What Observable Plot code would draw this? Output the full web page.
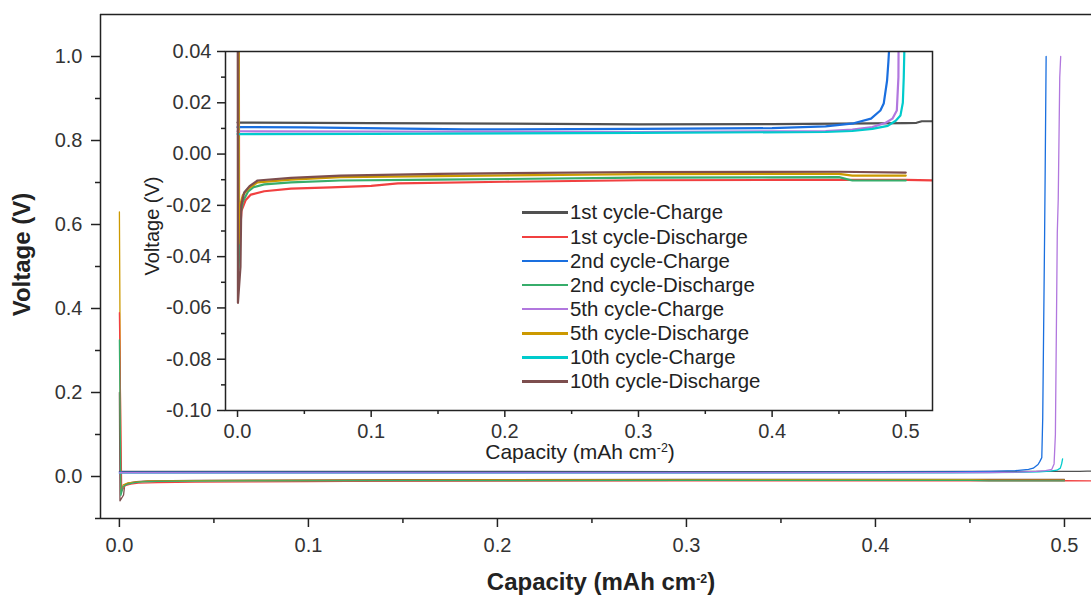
<!DOCTYPE html>
<html><head><meta charset="utf-8">
<script src="https://cdn.jsdelivr.net/npm/d3@7"></script>
<script src="https://cdn.jsdelivr.net/npm/@observablehq/plot@0.6"></script>
<style>
body{margin:0;background:#fff;}
#wrap{position:relative;width:1091px;height:596px;overflow:hidden;font-family:"Liberation Sans",Arial,sans-serif;}
#main{position:absolute;left:0;top:0;}
#inset{position:absolute;left:130px;top:38px;}
#legend{position:absolute;left:522px;top:200.6px;font-size:20.4px;color:#222;line-height:1;}
.row{display:flex;align-items:center;height:24.15px;white-space:nowrap;}
.sw{width:46px;height:2.5px;margin-right:2px;}
</style></head><body>
<div id="wrap"><div id="main"></div><div id="inset"></div><div id="legend"></div></div>
<script>
// ---------- data ----------
const seriesNames = ["1st cycle-Charge","1st cycle-Discharge","2nd cycle-Charge","2nd cycle-Discharge",
                     "5th cycle-Charge","5th cycle-Discharge","10th cycle-Charge","10th cycle-Discharge"];
const seriesColors = ["#515151","#F14040","#1A6FDF","#37AD6B","#B177DE","#CC9900","#00CBCC","#7D4E4E"];

const c1Cap = [0, 0.1, 0.2, 0.3, 0.4, 0.45, 0.5, 0.508, 0.512, 0.53];
const c1V   = [0.0123, 0.0121, 0.0119, 0.0116, 0.0117, 0.0119, 0.0121, 0.0122, 0.0128, 0.0128];
const d1Cap = [0, 0.0012, 0.003, 0.006, 0.01, 0.02, 0.04, 0.07, 0.1, 0.12, 0.2, 0.3, 0.4, 0.5, 0.53];
const d1V   = [0.39, -0.035, -0.022, -0.018, -0.0158, -0.0145, -0.0135, -0.013, -0.0124, -0.0114, -0.0108, -0.0102, -0.0101, -0.0101, -0.0103];
const c2Cap = [0, 0.05, 0.17, 0.3, 0.4, 0.44, 0.461, 0.474, 0.481, 0.4835, 0.486, 0.487, 0.488, 0.4885, 0.4895, 0.4898, 0.4903];
const c2V   = [0.0105, 0.0104, 0.0096, 0.0098, 0.0101, 0.0108, 0.012, 0.0138, 0.017, 0.0197, 0.0286, 0.036, 0.045, 0.14, 0.58, 0.73, 1.0];
const d2Cap = [0, 0.0008, 0.002, 0.004, 0.008, 0.012, 0.02, 0.04, 0.077, 0.15, 0.3, 0.45, 0.46, 0.5];
const d2V   = [0.325, -0.045, -0.024, -0.0185, -0.0145, -0.0129, -0.0118, -0.011, -0.0103, -0.0100, -0.0092, -0.009, -0.0103, -0.0103];
const c5Cap = [0, 0.1, 0.3, 0.44, 0.46, 0.475, 0.485, 0.49, 0.4933, 0.4945, 0.4952, 0.4962, 0.4967, 0.4975, 0.498];
const c5V   = [0.0089, 0.0088, 0.0086, 0.009, 0.0095, 0.0105, 0.0122, 0.0138, 0.017, 0.03, 0.1, 0.58, 0.66, 0.95, 1.0];
const d5Cap = [0, 0.0008, 0.002, 0.004, 0.008, 0.015, 0.04, 0.077, 0.15, 0.3, 0.45, 0.46, 0.5];
const d5V   = [0.63, -0.035, -0.02, -0.016, -0.0135, -0.011, -0.010, -0.009, -0.0086, -0.0078, -0.0077, -0.0084, -0.0084];
const c10Cap = [0, 0.1, 0.3, 0.44, 0.46, 0.475, 0.4865, 0.4925, 0.496, 0.4978, 0.4985, 0.499];
const c10V   = [0.0078, 0.0079, 0.0083, 0.0086, 0.009, 0.0098, 0.011, 0.013, 0.015, 0.02, 0.03, 0.042];
const d10Cap = [0, 0.0003, 0.0022, 0.0028, 0.005, 0.009, 0.015, 0.04, 0.077, 0.15, 0.3, 0.45, 0.5];
const d10V   = [0.2, -0.058, -0.044, -0.02, -0.015, -0.0125, -0.0103, -0.0093, -0.0084, -0.0077, -0.007, -0.0069, -0.0072];

const caps  = [c1Cap, d1Cap, c2Cap, d2Cap, c5Cap, d5Cap, c10Cap, d10Cap];
const volts = [c1V, d1V, c2V, d2V, c5V, d5V, c10V, d10V];

const mainXTicks = [0, 0.1, 0.2, 0.3, 0.4, 0.5];
const mainXMinor = [0.05, 0.15, 0.25, 0.35, 0.45];
const mainYTicks = [0, 0.2, 0.4, 0.6, 0.8, 1.0];
const mainYMinor = [-0.1, 0.1, 0.3, 0.5, 0.7, 0.9];
const insetXTicks = [0, 0.1, 0.2, 0.3, 0.4, 0.5];
const insetXMinor = [0.05, 0.15, 0.25, 0.35, 0.45];
const insetYTicks = [-0.10, -0.08, -0.06, -0.04, -0.02, 0.00, 0.02, 0.04];
const insetYMinor = [-0.09, -0.07, -0.05, -0.03, -0.01, 0.01, 0.03];
const xLabel = "Capacity (mAh cm-2)";
const yLabel = "Voltage (V)";

// ---------- build rows ----------
function rowsFor(order) {
  const out = [];
  for (const i of order) caps[i].forEach((c, k) => out.push({s: seriesNames[i], cap: c, v: volts[i][k]}));
  return out;
}
const mainRows = rowsFor([7, 5, 0, 1, 3, 6, 2, 4]);
const insetRows = rowsFor([0, 1, 2, 3, 4, 5, 6, 7]);

const FONT = "Liberation Sans, Arial, sans-serif";
const AX = "#222";

function superscript(svg) {
  d3.select(svg).selectAll("text").filter(function(){ return this.textContent === xLabel; }).each(function(){
    const t = d3.select(this);
    const fs = parseFloat(t.attr("font-size")) || 20;
    t.text(null);
    t.append("tspan").text("Capacity (mAh cm");
    t.append("tspan").attr("dy", -fs*0.38).attr("font-size", fs*0.62).text("-2");
    t.append("tspan").attr("dy", fs*0.38).text(")");
  });
}

// ---------- main chart ----------
const main = Plot.plot({
  width: 1091, height: 596,
  marginLeft: 100, marginRight: 0, marginTop: 14, marginBottom: 78,
  style: {fontFamily: FONT, fontSize: "20px", color: "#333", background: "transparent", overflow: "visible"},
  x: {domain: [-0.01, 0.5143]},
  y: {domain: [-0.1, 1.1]},
  color: {domain: seriesNames, range: seriesColors},
  marks: [
    Plot.line(mainRows, {x: "cap", y: "v", z: "s", stroke: "s", strokeWidth: 1.3, clip: true}),
    Plot.axisX({ticks: mainXTicks, tickFormat: d => d.toFixed(1), tickSize: 9, tickPadding: 10, label: null, stroke: AX, strokeWidth: 1.5, fontSize: 20}),
    Plot.axisX({ticks: mainXMinor, tickFormat: () => "", tickSize: 5, label: null, stroke: AX, strokeWidth: 1.5}),
    Plot.axisY({ticks: mainYTicks, tickFormat: d => d.toFixed(1), tickSize: 9, tickPadding: 9, label: null, stroke: AX, strokeWidth: 1.5, fontSize: 20}),
    Plot.axisY({ticks: mainYMinor, tickFormat: () => "", tickSize: 5, label: null, stroke: AX, strokeWidth: 1.5}),
    Plot.ruleX([-0.01], {stroke: AX, strokeWidth: 1.5}),
    Plot.ruleY([-0.1], {stroke: AX, strokeWidth: 1.5}),
    Plot.ruleY([1.1], {stroke: AX, strokeWidth: 1.5}),
    Plot.text([xLabel], {text: d => d, frameAnchor: "bottom", dx: 5, dy: 64, lineAnchor: "middle", textAnchor: "middle", fontSize: 24, fontWeight: "bold", fill: "#222"}),
    Plot.text([yLabel], {text: d => d, frameAnchor: "left", rotate: -90, dx: -78, dy: -12, lineAnchor: "middle", textAnchor: "middle", fontSize: 24, fontWeight: "bold", fill: "#222"})
  ]
});
superscript(main);
document.getElementById("main").appendChild(main);

// ---------- inset ----------
const inset = Plot.plot({
  width: 808, height: 437,
  marginLeft: 95, marginRight: 6, marginTop: 13, marginBottom: 65,
  style: {fontFamily: FONT, fontSize: "20px", color: "#333", background: "transparent", overflow: "visible"},
  x: {domain: [-0.009, 0.52]},
  y: {domain: [-0.10, 0.04]},
  color: {domain: seriesNames, range: seriesColors},
  marks: [
    Plot.frame({fill: "white", stroke: null}),
    Plot.line(insetRows, {x: "cap", y: "v", z: "s", stroke: "s", strokeWidth: 2.2, clip: true}),
    Plot.axisX({ticks: insetXTicks, tickFormat: d => d.toFixed(1), tickSize: 7, tickPadding: 6, label: null, stroke: AX, strokeWidth: 1.5, fontSize: 20}),
    Plot.axisX({ticks: insetXMinor, tickFormat: () => "", tickSize: 4, label: null, stroke: AX, strokeWidth: 1.5}),
    Plot.axisY({ticks: insetYTicks, tickFormat: d => d.toFixed(2), tickSize: 8, tickPadding: 6, label: null, stroke: AX, strokeWidth: 1.5, fontSize: 20}),
    Plot.axisY({ticks: insetYMinor, tickFormat: () => "", tickSize: 4, label: null, stroke: AX, strokeWidth: 1.5}),
    Plot.frame({stroke: AX, strokeWidth: 1.5}),
    Plot.text([xLabel], {text: d => d, frameAnchor: "bottom", dx: 1, dy: 42, lineAnchor: "middle", textAnchor: "middle", fontSize: 21, fill: "#222"}),
    Plot.text([yLabel], {text: d => d, frameAnchor: "left", rotate: -90, dx: -73, dy: -5, lineAnchor: "middle", textAnchor: "middle", fontSize: 20, fill: "#222"})
  ]
});
superscript(inset);
document.getElementById("inset").appendChild(inset);

// ---------- legend ----------
const legend = d3.select("#legend");
seriesNames.forEach((n, i) => {
  const r = legend.append("div").attr("class", "row");
  r.append("div").attr("class", "sw").style("background", seriesColors[i]);
  r.append("span").text(n);
});
</script>
</body></html>
